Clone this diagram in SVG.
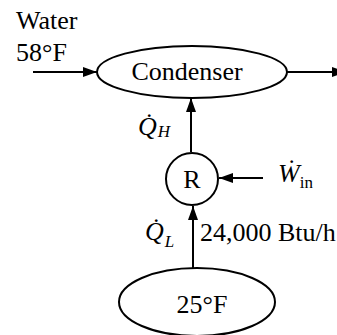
<svg xmlns="http://www.w3.org/2000/svg" width="337" height="335" viewBox="0 0 337 335">
<defs>
<marker id="ah" markerWidth="14" markerHeight="10" refX="14" refY="5" orient="auto" markerUnits="userSpaceOnUse">
<path d="M0,0 L14,5 L0,10 Z" fill="#000"/>
</marker>
<style>
.shape{fill:#fff;stroke:#000;stroke-width:2}
.ln{stroke:#000;stroke-width:2;fill:none}
text{font-family:"Liberation Serif","Times New Roman",serif;font-size:26px;fill:#000}
.it{font-style:italic}
.sub{font-size:17px}
</style>
</defs>
<rect width="337" height="335" fill="#fff"/>
<g id="connectors">
<line class="ln" x1="33" y1="72" x2="97" y2="72" marker-end="url(#ah)"/>
<line class="ln" x1="287" y1="72" x2="346" y2="72" marker-end="url(#ah)"/>
<line class="ln" x1="191" y1="152" x2="191" y2="98" marker-end="url(#ah)"/>
<line class="ln" x1="263" y1="178" x2="219" y2="178" marker-end="url(#ah)"/>
<line class="ln" x1="193" y1="268" x2="193" y2="206" marker-end="url(#ah)"/>
</g>
<g id="water-label">
<text x="16" y="29">Water</text>
<text x="16" y="61">58°F</text>
</g>
<g id="condenser">
<ellipse class="shape" cx="192" cy="72" rx="95" ry="26"/>
<text x="187" y="80" text-anchor="middle">Condenser</text>
</g>
<g id="refrigerator">
<circle class="shape" cx="192" cy="179" r="26"/>
<text x="192" y="188" text-anchor="middle">R</text>
</g>
<g id="cold-space">
<ellipse class="shape" cx="197" cy="302" rx="78" ry="34"/>
<text x="202" y="313" text-anchor="middle">25°F</text>
</g>
<g id="labels">
<text x="138" y="135" class="it">Q̇<tspan class="sub" dx="1" dy="2">H</tspan></text>
<text x="278" y="182" class="it">Ẇ<tspan class="sub" dy="6" font-style="normal">in</tspan></text>
<text x="145" y="240" class="it">Q̇<tspan class="sub" dx="1" dy="7">L</tspan></text>
<text x="200" y="241">24,000 Btu/h</text>
</g>
</svg>
